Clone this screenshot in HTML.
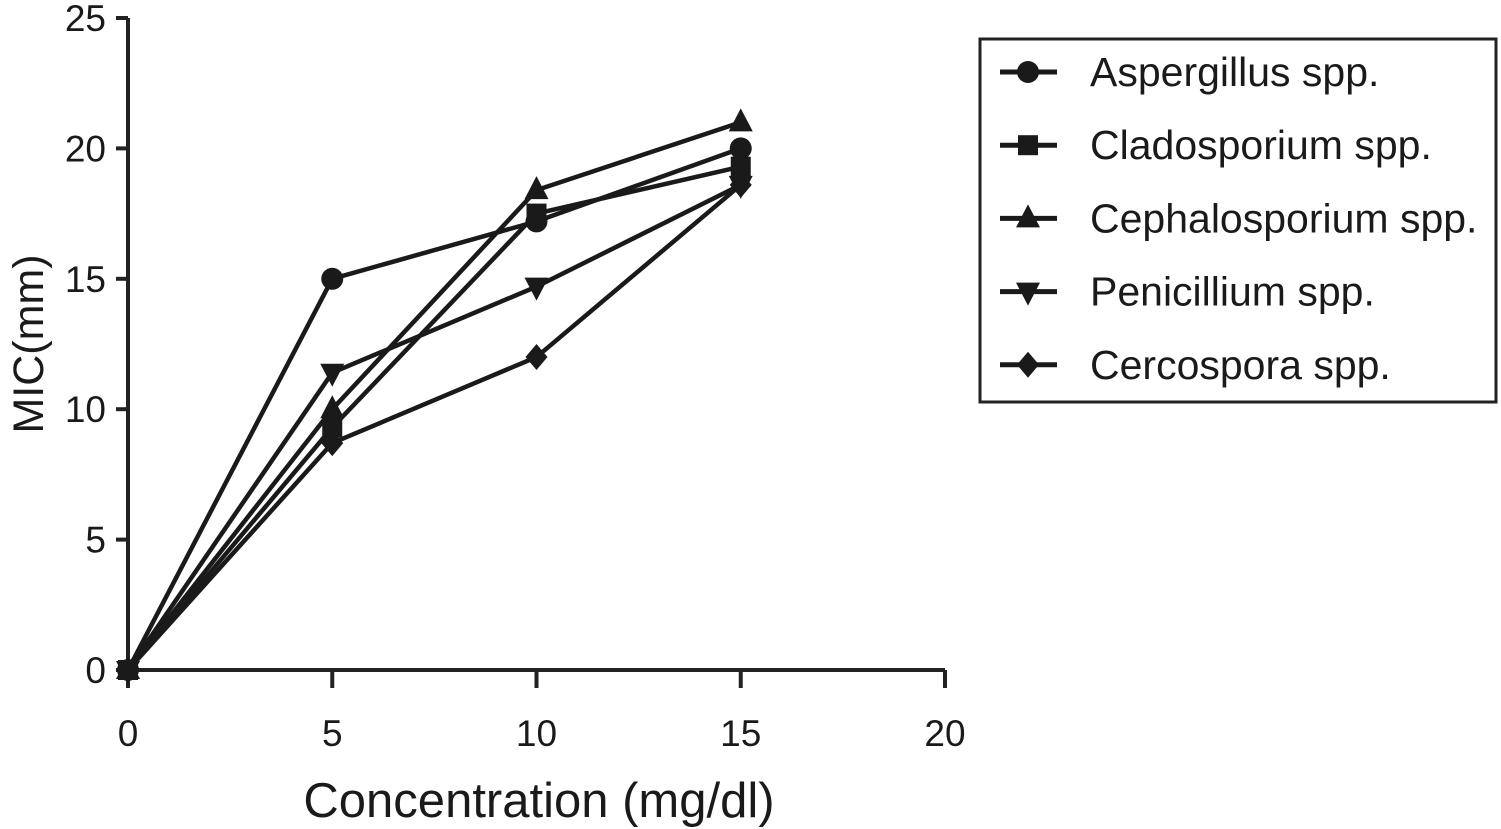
<!DOCTYPE html>
<html><head><meta charset="utf-8"><style>
html,body{margin:0;padding:0;background:#fff;}
svg{display:block;font-family:"Liberation Sans",Arial,sans-serif;}
</style></head><body>
<svg id="chart" width="1501" height="829" viewBox="0 0 1501 829" xmlns="http://www.w3.org/2000/svg">
<g id="axes"></g>
<g id="series"></g>
<g id="legend"></g>
</svg>
<script>
const xValues = [0, 5, 10, 15];
const seriesNames = ["Aspergillus spp.", "Cladosporium spp.", "Cephalosporium spp.", "Penicillium spp.", "Cercospora spp."];
const aspergillus = [0, 15.0, 17.2, 20.0];
const cladosporium = [0, 9.3, 17.5, 19.3];
const cephalosporium = [0, 10.0, 18.4, 21.0];
const penicillium = [0, 11.4, 14.7, 18.6];
const cercospora = [0, 8.7, 12.0, 18.6];
const xTicks = [0, 5, 10, 15, 20];
const yTicks = [0, 5, 10, 15, 20, 25];
const markers = ["circle", "square", "triangle", "invtriangle", "diamond"];

const NS = "http://www.w3.org/2000/svg";
const X0 = 128, X1 = 945, Y0 = 670, Y1 = 18;
function xs(v){ return X0 + (v - 0) / 20 * (X1 - X0); }
function ys(v){ return Y0 - (v - 0) / 25 * (Y0 - Y1); }
function mk(tag, attrs, parent){ const e = document.createElementNS(NS, tag); for (const k in attrs) e.setAttribute(k, attrs[k]); parent.appendChild(e); return e; }

const axes = document.getElementById('axes');
let yl = mk('line', {x1:X0, y1:Y0, x2:X0, y2:Y1, stroke:'#222', 'stroke-width':4}, axes);


let xl = mk('line', {x1:X0, y1:Y0, x2:X1, y2:Y0, stroke:'#222', 'stroke-width':4}, axes);


yTicks.forEach(t => {
  const y = ys(t);
  const tk = mk('line', {x1:X0-12, y1:y, x2:X0, y2:y, stroke:'#222', 'stroke-width':4}, axes);
  
  
  const tx = mk('text', {x:106, y:y+13, 'text-anchor':'end', 'font-size':37, fill:'#1a1a1a'}, axes);
  tx.textContent = t;
  
  
});
xTicks.forEach(t => {
  const x = xs(t);
  const tk = mk('line', {x1:x, y1:Y0, x2:x, y2:Y0+18, stroke:'#222', 'stroke-width':4}, axes);
  
  
  const tx = mk('text', {x:x, y:746, 'text-anchor':'middle', 'font-size':37, fill:'#1a1a1a'}, axes);
  tx.textContent = t;
  
  
});
const xt = mk('text', {x:539, y:817, 'text-anchor':'middle', 'font-size':49, fill:'#1a1a1a'}, axes);
xt.textContent = 'Concentration (mg/dl)';


const yt = mk('text', {x:0, y:0, 'text-anchor':'middle', 'font-size':43, fill:'#1a1a1a', transform:'translate(43,344) rotate(-90)'}, axes);
yt.textContent = 'MIC(mm)';



function drawMarker(type, x, y, parent){
  let e;
  const f = '#1a1a1a';
  if (type === 'circle') e = mk('circle', {cx:x, cy:y, r:11, fill:f}, parent);
  else if (type === 'square') e = mk('rect', {x:x-10, y:y-10, width:20, height:20, fill:f}, parent);
  else if (type === 'triangle') e = mk('polygon', {points:`${x},${y-14} ${x+12},${y+9} ${x-12},${y+9}`, fill:f}, parent);
  else if (type === 'invtriangle') e = mk('polygon', {points:`${x},${y+14} ${x+12},${y-9} ${x-12},${y-9}`, fill:f}, parent);
  else e = mk('polygon', {points:`${x},${y-13} ${x+11},${y} ${x},${y+13} ${x-11},${y}`, fill:f}, parent);
  return e;
}

const seriesData = [aspergillus, cladosporium, cephalosporium, penicillium, cercospora];
const sg = document.getElementById('series');
seriesData.forEach((vals, i) => {
  const g = mk('g', {}, sg);
  
  
  const pts = vals.map((v, j) => xs(xValues[j]) + ',' + ys(v)).join(' ');
  const pl = mk('polyline', {points:pts, fill:'none', stroke:'#1a1a1a', 'stroke-width':4.5, 'stroke-linejoin':'round'}, g);
  
  
  vals.forEach((v, j) => {
    const m = drawMarker(markers[i], xs(xValues[j]), ys(v), g);
    
    
  });
});

const lg = document.getElementById('legend');
const box = mk('rect', {x:980, y:39, width:516, height:363, fill:'#fff', stroke:'#222', 'stroke-width':3}, lg);


seriesNames.forEach((name, i) => {
  const y = 72 + i * 73.2;
  const g = mk('g', {}, lg);
  
  
  mk('line', {x1:1000, y1:y, x2:1057, y2:y, stroke:'#1a1a1a', 'stroke-width':5}, g);
  drawMarker(markers[i], 1028, y, g);
  const t = mk('text', {x:1090, y:y+14, 'font-size':41, fill:'#1a1a1a'}, g);
  t.textContent = name;
});
</script>
</body></html>
